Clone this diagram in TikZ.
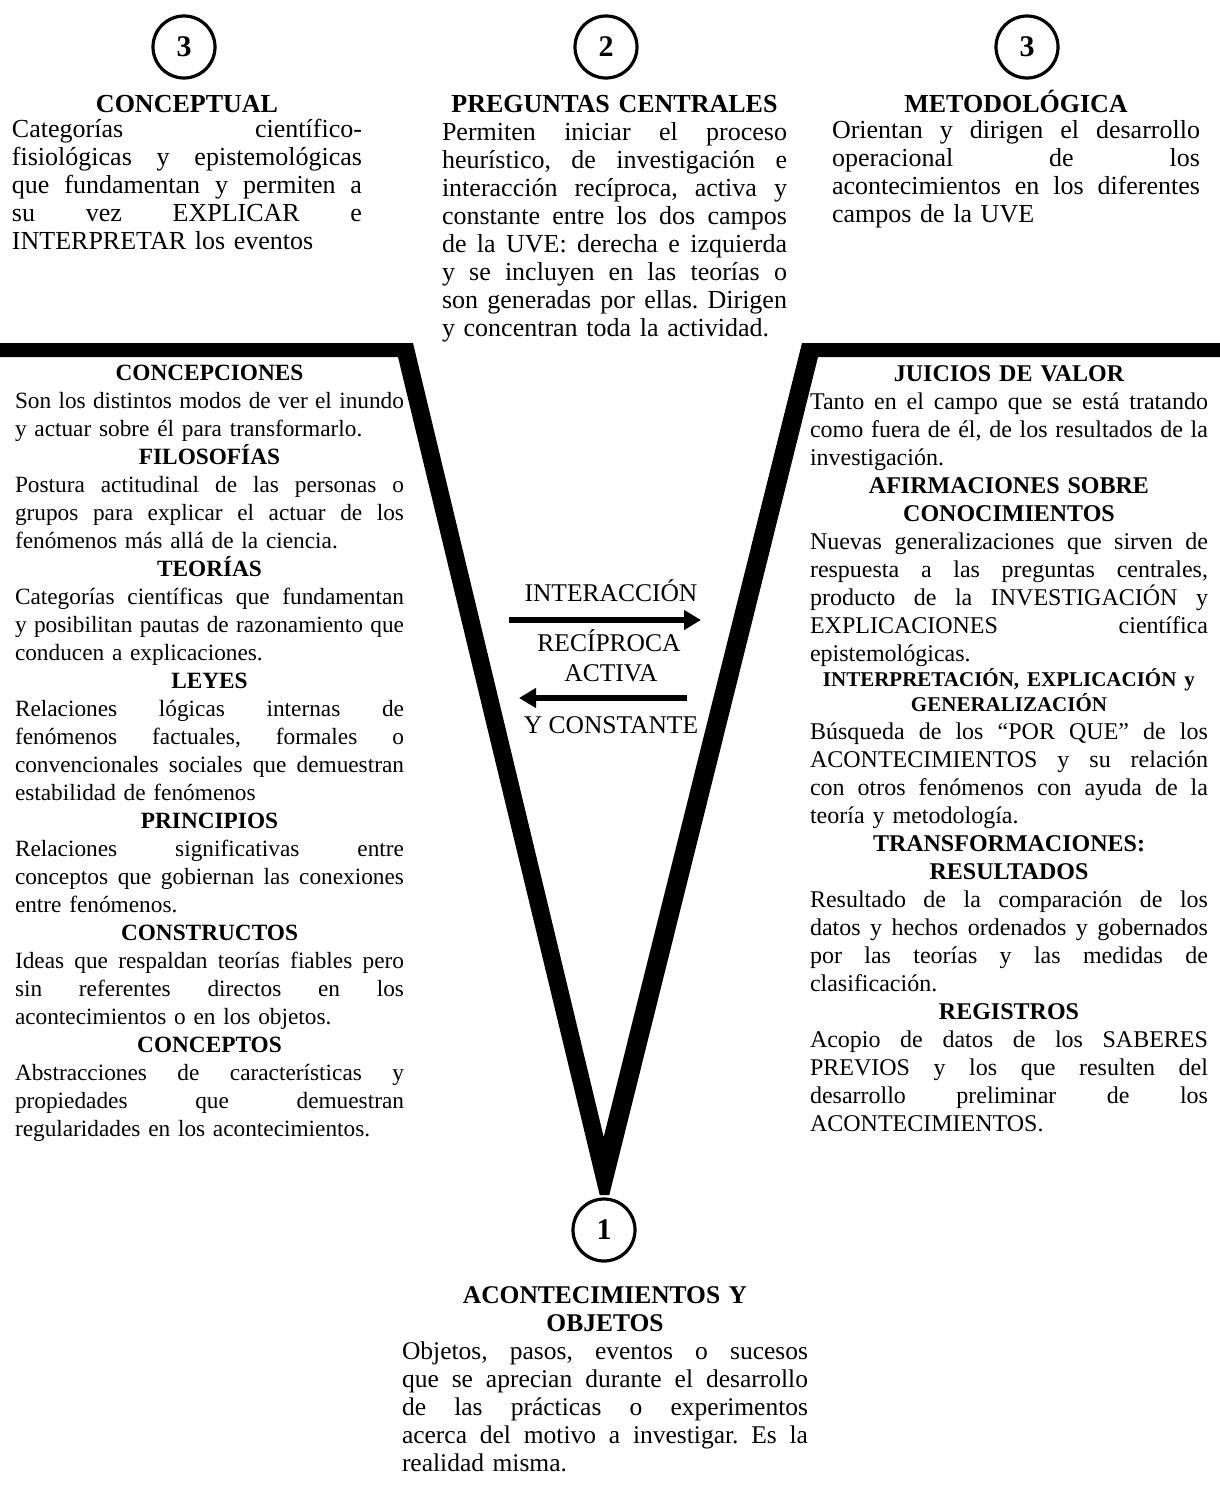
\documentclass[tikz,border=0pt]{standalone}
\usepackage{fontspec}
\setmainfont{Liberation Serif}
\usetikzlibrary{arrows.meta}
\newlength\cw
\newcommand\JL[1]{\makebox[\cw][s]{\frenchspacing\spaceskip=.25em plus 1fil minus .08em\relax #1}}
\newcommand\HD[1]{\makebox[\cw][c]{\bfseries #1}}
\newcommand\HS[1]{\makebox[\cw][c]{\fontsize{21}{25}\selectfont\bfseries #1}}
\newcommand\ST{\rule{0pt}{30pt}}
\tikzset{
  txtblock/.style={anchor=north west, inner sep=0pt, outer sep=0pt, align=left,
    text width=#1, execute at begin node={\setlength\cw{#1}\frenchspacing}},
  numcirc/.style={circle, draw, line width=3.2pt, minimum size=62pt, inner sep=0pt,
    font=\fontsize{30}{30}\selectfont\bfseries},
  midlbl/.style={anchor=base, inner sep=0pt, font=\fontsize{25.5}{28}\selectfont},
  biarrow/.style={line width=6pt, -{Triangle[length=17pt,width=19pt]}}
}
\begin{document}
\begin{tikzpicture}[x=1pt,y=-1pt]
\useasboundingbox (0,0) rectangle (1220,1499);

% the V
\fill[black] (0,343) -- (413,343) -- (603.7,1137) -- (802,343) -- (1220,343)
  -- (1220,357) -- (818,357) -- (609.3,1195) -- (599.7,1195) -- (398,357)
  -- (0,357) -- cycle;

% circles
\node[numcirc] (c3l) at (184,47) {3};
\node[numcirc] (c2) at (606,47) {2};
\node[numcirc] (c3r) at (1027,47) {3};
\node[numcirc] (c1) at (604,1230) {1};

% top-left
\node[txtblock=350pt, font=\fontsize{26}{28}\selectfont] (conceptual) at (12,82) {%
\ST\HD{CONCEPTUAL}\\[-3pt]
\JL{Categorías científico-}\\
\JL{fisiológicas y epistemológicas}\\
\JL{que fundamentan y permiten a}\\
\JL{su vez EXPLICAR e}\\
INTERPRETAR los eventos};

% top-middle
\node[txtblock=345pt, font=\fontsize{26}{28.1}\selectfont] (preguntas) at (442,82) {%
\ST\HD{PREGUNTAS CENTRALES}\\
\JL{Permiten iniciar el proceso}\\
\JL{heurístico, de investigación e}\\
\JL{interacción recíproca, activa y}\\
\JL{constante entre los dos campos}\\
\JL{de la UVE: derecha e izquierda}\\
\JL{y se incluyen en las teorías o}\\
\JL{son generadas por ellas. Dirigen}\\
y concentran toda la actividad.};

% top-right
\node[txtblock=368pt, font=\fontsize{26}{28}\selectfont] (metodologica) at (832,82) {%
\ST\HD{METODOLÓGICA}\\[-1.5pt]
\JL{Orientan y dirigen el desarrollo}\\
\JL{operacional de los}\\
\JL{acontecimientos en los diferentes}\\
campos de la UVE};

% left column
\node[txtblock=389pt, font=\fontsize{23.3}{28}\selectfont] (izq) at (15,350) {%
\ST\HD{CONCEPCIONES}\\
\JL{Son los distintos modos de ver el inundo}\\
y actuar sobre él para transformarlo.\\
\HD{FILOSOFÍAS}\\
\JL{Postura actitudinal de las personas o}\\
\JL{grupos para explicar el actuar de los}\\
fenómenos más allá de la ciencia.\\
\HD{TEORÍAS}\\
\JL{Categorías científicas que fundamentan}\\
\JL{y posibilitan pautas de razonamiento que}\\
conducen a explicaciones.\\
\HD{LEYES}\\
\JL{Relaciones lógicas internas de}\\
\JL{fenómenos factuales, formales o}\\
\JL{convencionales sociales que demuestran}\\
estabilidad de fenómenos\\
\HD{PRINCIPIOS}\\
\JL{Relaciones significativas entre}\\
\JL{conceptos que gobiernan las conexiones}\\
entre fenómenos.\\
\HD{CONSTRUCTOS}\\
\JL{Ideas que respaldan teorías fiables pero}\\
\JL{sin referentes directos en los}\\
acontecimientos o en los objetos.\\
\HD{CONCEPTOS}\\
\JL{Abstracciones de características y}\\
\JL{propiedades que demuestran}\\
regularidades en los acontecimientos.};

% right column
\node[txtblock=398pt, font=\fontsize{24}{28}\selectfont] (der) at (810,351.7) {%
\ST\HD{JUICIOS DE VALOR}\\
\JL{Tanto en el campo que se está tratando}\\
\JL{como fuera de él, de los resultados de la}\\
investigación.\\
\HD{AFIRMACIONES SOBRE}\\
\HD{CONOCIMIENTOS}\\
\JL{Nuevas generalizaciones que sirven de}\\
\JL{respuesta a las preguntas centrales,}\\
\JL{producto de la INVESTIGACIÓN y}\\
\JL{EXPLICACIONES científica}\\
epistemológicas.\\[-3pt]
\HS{INTERPRETACIÓN, EXPLICACIÓN y}\\[-3pt]
\HS{GENERALIZACIÓN}\\
\JL{Búsqueda de los “POR QUE” de los}\\
\JL{ACONTECIMIENTOS y su relación}\\
\JL{con otros fenómenos con ayuda de la}\\
teoría y metodología.\\
\HD{TRANSFORMACIONES:}\\
\HD{RESULTADOS}\\
\JL{Resultado de la comparación de los}\\
\JL{datos y hechos ordenados y gobernados}\\
\JL{por las teorías y las medidas de}\\
clasificación.\\
\HD{REGISTROS}\\
\JL{Acopio de datos de los SABERES}\\
\JL{PREVIOS y los que resulten del}\\
\JL{desarrollo preliminar de los}\\
ACONTECIMIENTOS.};

% bottom
\node[txtblock=406pt, font=\fontsize{25.5}{28.1}\selectfont] (acontecimientos) at (402,1273.3) {%
\ST\HD{ACONTECIMIENTOS Y}\\
\HD{OBJETOS}\\
\JL{Objetos, pasos, eventos o sucesos}\\
\JL{que se aprecian durante el desarrollo}\\
\JL{de las prácticas o experimentos}\\
\JL{acerca del motivo a investigar. Es la}\\
realidad misma.};

% middle labels and arrows
\node[midlbl] (l1) at (611,601.7) {INTERACCIÓN};
\node[midlbl] (l2) at (609,651.7) {RECÍPROCA};
\node[midlbl] (l3) at (611,681.7) {ACTIVA};
\node[midlbl] (l4) at (611,733.3) {Y CONSTANTE};
\coordinate (a1s) at (509,620);
\coordinate (a1e) at (701,620);
\coordinate (a2s) at (687,698);
\coordinate (a2e) at (519,698);
\draw[biarrow] (a1s) -- (a1e);
\draw[biarrow] (a2s) -- (a2e);
\end{tikzpicture}
\end{document}
